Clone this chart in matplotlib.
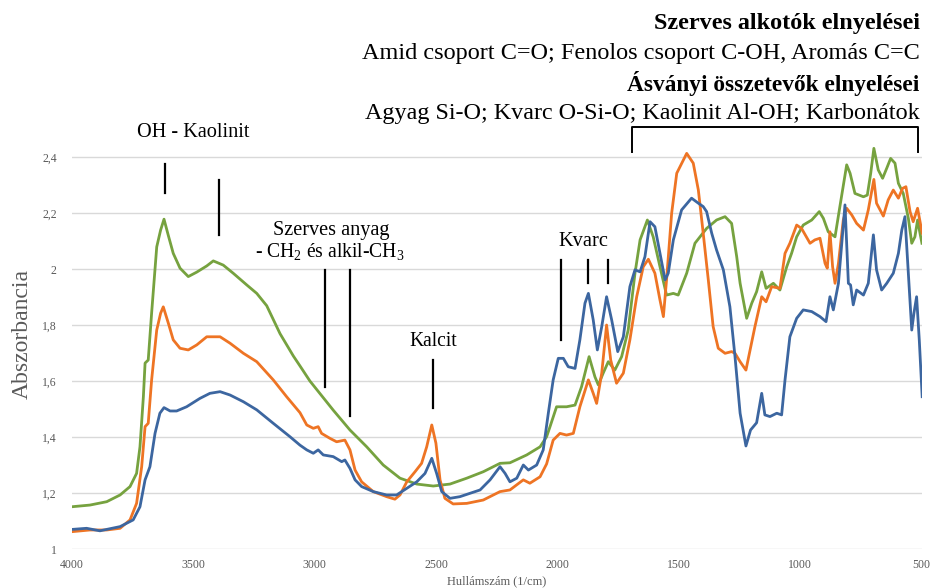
import matplotlib
matplotlib.use("Agg")
import matplotlib.pyplot as plt
import numpy as np

# ---------------- data ----------------
wn_green = [4000, 3926, 3857, 3802, 3761, 3734, 3720, 3706, 3699, 3686, 3672, 3651, 3635, 3621, 3603,
            3583, 3555, 3521, 3486, 3445, 3418, 3377, 3336, 3280, 3239, 3198, 3143, 3088, 3061, 3020,
            2924, 2855, 2786, 2718, 2649, 2580, 2512, 2443, 2374, 2306, 2237, 2196, 2127, 2072, 2045,
            2031, 2004, 1963, 1928, 1901, 1870, 1846, 1832, 1812, 1791, 1764, 1736, 1709, 1681, 1660,
            1630, 1606, 1578, 1551, 1523, 1503, 1468, 1434, 1386, 1345, 1310, 1283, 1262, 1248, 1235,
            1221, 1200, 1180, 1159, 1141, 1111, 1084, 1056, 1036, 1015, 988, 953, 922, 905, 885, 857,
            837, 809, 795, 775, 740, 724, 710, 697, 679, 661, 644, 628, 610, 596, 576, 555, 541, 528,
            517, 507, 499]
abs_green = [1.152, 1.158, 1.170, 1.194, 1.224, 1.271, 1.366, 1.545, 1.665, 1.676, 1.844, 2.080, 2.140, 2.179, 2.120,
             2.057, 2.004, 1.974, 1.990, 2.012, 2.030, 2.015, 1.986, 1.944, 1.914, 1.870, 1.770, 1.690, 1.655, 1.601,
             1.497, 1.426, 1.366, 1.301, 1.254, 1.233, 1.226, 1.233, 1.254, 1.277, 1.307, 1.309, 1.337, 1.366, 1.402,
             1.438, 1.509, 1.509, 1.515, 1.581, 1.688, 1.616, 1.587, 1.629, 1.670, 1.640, 1.688, 1.783, 1.986, 2.105,
             2.176, 2.116, 2.009, 1.908, 1.914, 1.908, 1.986, 2.093, 2.146, 2.176, 2.188, 2.164, 2.045, 1.950, 1.890,
             1.825, 1.879, 1.920, 1.991, 1.932, 1.950, 1.926, 2.009, 2.057, 2.116, 2.158, 2.176, 2.206, 2.182, 2.134, 2.116,
             2.224, 2.373, 2.343, 2.271, 2.259, 2.265, 2.343, 2.432, 2.355, 2.325, 2.361, 2.396, 2.379, 2.307, 2.271, 2.182, 2.093, 2.116,
             2.176, 2.129, 2.093]

wn_orange = [4000, 3926, 3857, 3802, 3761, 3734, 3713, 3699, 3686, 3672, 3651, 3635, 3624, 3603, 3583,
             3555, 3521, 3486, 3445, 3390, 3349, 3294, 3239, 3171, 3116, 3061, 3033, 3006, 2986, 2972,
             2937, 2910, 2876, 2855, 2834, 2807, 2759, 2704, 2670, 2649, 2621, 2587, 2560, 2539, 2518,
             2501, 2484, 2464, 2430, 2374, 2306, 2237, 2196, 2141, 2114, 2072, 2045, 2018, 1990, 1963,
             1935, 1908, 1873, 1853, 1839, 1818, 1798, 1781, 1757, 1729, 1702, 1674, 1647, 1626, 1599,
             1578, 1564, 1551, 1530, 1509, 1468, 1441, 1420, 1400, 1379, 1359, 1338, 1310, 1283, 1269,
             1248, 1224, 1207, 1187, 1159, 1141, 1118, 1084, 1063, 1043, 1015, 995, 960, 940, 919, 898,
             889, 878, 867, 857, 843, 823, 809, 788, 768, 740, 720, 697, 686, 658, 638, 617, 596, 579,
             565, 548, 535, 517, 498]
abs_orange = [1.063, 1.069, 1.069, 1.075, 1.105, 1.164, 1.295, 1.438, 1.450, 1.605, 1.783, 1.843, 1.866, 1.807, 1.748,
              1.718, 1.712, 1.730, 1.759, 1.759, 1.736, 1.700, 1.670, 1.605, 1.545, 1.488, 1.444, 1.432, 1.438, 1.414,
              1.396, 1.384, 1.390, 1.355, 1.283, 1.241, 1.206, 1.188, 1.179, 1.194, 1.241, 1.277, 1.307, 1.366, 1.444,
              1.379, 1.248, 1.182, 1.162, 1.164, 1.176, 1.206, 1.212, 1.248, 1.236, 1.259, 1.305, 1.390, 1.414, 1.408,
              1.414, 1.509, 1.605, 1.557, 1.521, 1.629, 1.801, 1.676, 1.593, 1.629, 1.748, 1.902, 2.009, 2.036, 1.986,
              1.890, 1.831, 1.962, 2.200, 2.343, 2.414, 2.379, 2.283, 2.129, 1.962, 1.795, 1.718, 1.700, 1.706, 1.700,
              1.670, 1.640, 1.712, 1.795, 1.902, 1.884, 1.938, 1.932, 2.057, 2.093, 2.158, 2.146, 2.093, 2.105, 2.111, 2.021,
              2.004, 2.134, 2.009, 1.950, 2.021, 2.176, 2.218, 2.194, 2.164, 2.140, 2.212, 2.321, 2.236, 2.190, 2.248, 2.283, 2.254, 2.289,
              2.295, 2.206, 2.170, 2.218, 2.129]

wn_blue = [4000, 3940, 3885, 3802, 3748, 3720, 3699, 3679, 3658, 3638, 3621, 3596, 3569, 3528, 3473,
           3432, 3390, 3349, 3294, 3239, 3171, 3102, 3061, 3033, 3006, 2986, 2965, 2924, 2889, 2876,
           2855, 2834, 2807, 2759, 2704, 2663, 2621, 2580, 2546, 2518, 2498, 2477, 2443, 2402, 2361,
           2319, 2278, 2237, 2216, 2196, 2168, 2141, 2120, 2086, 2059, 2038, 2018, 1997, 1976, 1956,
           1928, 1908, 1887, 1873, 1853, 1836, 1818, 1798, 1777, 1752, 1729, 1702, 1681, 1660, 1640,
           1619, 1599, 1578, 1557, 1544, 1523, 1489, 1448, 1420, 1400, 1386, 1365, 1345, 1317, 1290,
           1269, 1248, 1224, 1205, 1180, 1159, 1146, 1125, 1097, 1077, 1063, 1043, 1015, 988, 953,
           919, 894, 878, 864, 843, 816, 802, 793, 782, 768, 740, 720, 699, 686, 665, 644, 617, 596,
           582, 569, 555, 541, 532, 521, 510, 498]
abs_blue = [1.071, 1.075, 1.066, 1.081, 1.105, 1.152, 1.248, 1.295, 1.414, 1.486, 1.506, 1.494, 1.494, 1.509, 1.539,
            1.557, 1.563, 1.551, 1.527, 1.498, 1.450, 1.402, 1.372, 1.355, 1.343, 1.355, 1.337, 1.331, 1.313, 1.319,
            1.289, 1.248, 1.224, 1.206, 1.194, 1.194, 1.218, 1.241, 1.271, 1.325, 1.271, 1.206, 1.182, 1.188, 1.200,
            1.212, 1.248, 1.295, 1.271, 1.241, 1.254, 1.301, 1.283, 1.301, 1.355, 1.486, 1.605, 1.682, 1.682, 1.652,
            1.646, 1.748, 1.879, 1.914, 1.819, 1.712, 1.795, 1.902, 1.819, 1.706, 1.759, 1.938, 1.998, 1.991, 2.045,
            2.170, 2.152, 2.057, 1.962, 1.986, 2.105, 2.212, 2.254, 2.236, 2.224, 2.206, 2.129, 2.069, 1.998, 1.866,
            1.688, 1.486, 1.369, 1.426, 1.452, 1.557, 1.480, 1.474, 1.486, 1.480, 1.605, 1.759, 1.825, 1.855, 1.849,
            1.831, 1.813, 1.902, 1.855, 1.950, 2.230, 1.950, 1.944, 1.873, 1.926, 1.908, 1.950, 2.123, 1.998, 1.926, 1.950, 1.986, 2.057,
            2.140, 2.188, 1.986, 1.783, 1.843, 1.902, 1.748, 1.545]

x_ticks = [4000, 3500, 3000, 2500, 2000, 1500, 1000, 500]
x_tick_labels = ["4000", "3500", "3000", "2500", "2000", "1500", "1000", "500"]
y_ticks = [1.0, 1.2, 1.4, 1.6, 1.8, 2.0, 2.2, 2.4]
y_tick_labels = ["1", "1,2", "1,4", "1,6", "1,8", "2", "2,2", "2,4"]

# band-marker positions (wavenumber, y-from, y-to) and labels
marks_oh = [(3617, 2.273, 2.376), (3395, 2.123, 2.319)]
marks_ch = [(2958, 1.580, 1.998), (2855, 1.476, 1.998)]
marks_kalcit = [(2512, 1.504, 1.676)]
marks_kvarc = [(1987, 1.748, 2.033), (1873, 1.952, 2.033), (1791, 1.952, 2.033)]
bracket = (1692, 514, 2.419, 2.51)

header_lines = [("Szerves alkotók elnyelései", "bold"),
                ("Amid csoport C=O; Fenolos csoport C-OH, Aromás C=C", "normal"),
                ("Ásványi összetevők elnyelései", "bold"),
                ("Agyag Si-O; Kvarc O-Si-O; Kaolinit Al-OH; Karbonátok", "normal")]

# ---------------- styling ----------------
plt.rcParams["font.family"] = ["Liberation Serif", "DejaVu Serif"]
plt.rcParams["mathtext.fontset"] = "custom"
plt.rcParams["mathtext.rm"] = "Liberation Serif"
plt.rcParams["mathtext.it"] = "Liberation Serif:italic"

W, H = 930, 588
fig = plt.figure(figsize=(W / 100, H / 100), dpi=100)
left_px, right_px, y1_px = 72, 921.7, 549.3
ylo, yhi = 1.0, 2.45
top_px = y1_px - (yhi - ylo) * 280
ax = fig.add_axes([left_px / W, (H - y1_px) / H, (right_px - left_px) / W, (y1_px - top_px) / H])

c_blue, c_orange, c_green = "#3C66A0", "#EE7424", "#76A23F"
lw = 2.0
ax.plot(wn_green, abs_green, color=c_green, lw=lw, solid_joinstyle="round", zorder=3)
ax.plot(wn_orange, abs_orange, color=c_orange, lw=lw, solid_joinstyle="round", zorder=4)
ax.plot(wn_blue, abs_blue, color=c_blue, lw=lw, solid_joinstyle="round", zorder=5)

ax.set_xlim(4000, 500)
ax.set_ylim(ylo, yhi)
ax.set_xticks(x_ticks)
ax.set_xticklabels(x_tick_labels)
ax.set_yticks(y_ticks)
ax.set_yticklabels(y_tick_labels)
for s in ax.spines.values():
    s.set_visible(False)
ax.grid(axis="y", color="#D9D9D9", lw=1.0, zorder=0)
ax.tick_params(length=0, labelsize=8.5, labelcolor="#595959")
ax.tick_params(axis="y", pad=11)
ax.tick_params(axis="x", pad=7)

ylab = fig.text(22 / W, 1 - 334 / H, "Abszorbancia", rotation=90, ha="center", va="center",
                fontsize=16, color="#595959")
xl = fig.text(497 / W, 1 - 581 / H, "Hullámszám (1/cm)", ha="center", va="center",
              fontsize=9, color="#595959")

# ---------------- annotations ----------------
def vline(m):
    for x, a, b in m:
        ax.plot([x, x], [a, b], color="black", lw=1.6, clip_on=False, zorder=6)

vline(marks_oh)
vline(marks_ch)
vline(marks_kalcit)
vline(marks_kvarc)
bx0, bx1, by0, by1 = bracket
ax.plot([bx0, bx0, bx1, bx1], [by0, by1, by1, by0], color="black", lw=1.4,
        clip_on=False, zorder=6, solid_joinstyle="round")

def to_data_y(ypx):
    return ylo + (y1_px - ypx) / 280

def to_data_x(xpx):
    return 4000 - (xpx - left_px) * 3500 / (right_px - left_px)

texts = []
t1 = ax.text(to_data_x(193), to_data_y(133), "OH - Kaolinit", ha="center", va="center", fontsize=15)
t2 = ax.text(to_data_x(331), to_data_y(230), "Szerves anyag", ha="center", va="center", fontsize=15)
t3 = ax.text(to_data_x(330), to_data_y(251), r"- CH$_\mathrm{2}$ és alkil-CH$_\mathrm{3}$", ha="center", va="center", fontsize=15)
t4 = ax.text(to_data_x(433), to_data_y(341.7), "Kalcit", ha="center", va="center", fontsize=15)
t5 = ax.text(to_data_x(583), to_data_y(241.7), "Kvarc", ha="center", va="center", fontsize=15)
texts += [(t1, 113, "w"), (t2, 117, "w"), (t3, 150, "w"), (t4, 48, "w"), (t5, 50, "w"), (ylab, 130, "h")]

ys = [23, 54, 83, 113]
widths = [266, 557, 293, 556]
for (txt, wt), yy, wdt in zip(header_lines, ys, widths):
    t = fig.text(919.5 / W, 1 - yy / H, txt, ha="right", va="center", fontsize=17, fontweight=wt)
    texts.append((t, wdt, "w"))

fig.canvas.draw()
r = fig.canvas.get_renderer()
for t, target, dim in texts:
    bb = t.get_window_extent(r)
    size = bb.width if dim == "w" else bb.height
    t.set_fontsize(t.get_fontsize() * target / size)

plt.savefig("out.png", dpi=100)
